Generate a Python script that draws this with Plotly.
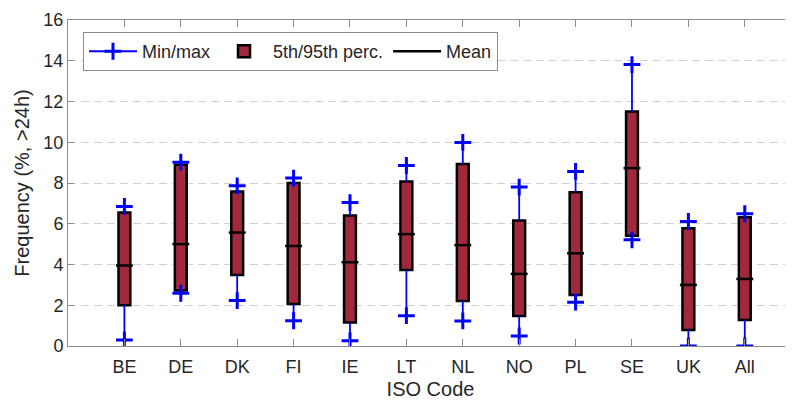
import plotly.graph_objects as go

categories = ["BE", "DE", "DK", "FI", "IE", "LT", "NL", "NO", "PL", "SE", "UK", "All"]
v_max = [6.85, 9.02, 7.86, 8.24, 7.04, 8.86, 9.99, 7.80, 8.57, 13.81, 6.11, 6.49]
v_p95 = [6.55, 8.90, 7.58, 8.00, 6.40, 8.07, 8.93, 6.16, 7.55, 11.51, 5.78, 6.32]
v_mean = [3.95, 5.00, 5.57, 4.91, 4.11, 5.49, 4.95, 3.54, 4.55, 8.73, 3.00, 3.29]
v_p5 = [2.00, 2.72, 3.49, 2.06, 1.15, 3.73, 2.21, 1.47, 2.50, 5.41, 0.79, 1.28]
v_min = [0.30, 2.59, 2.23, 1.24, 0.26, 1.49, 1.23, 0.49, 2.15, 5.21, 0.00, 0.00]
y_ticks = [0, 2, 4, 6, 8, 10, 12, 14, 16]

BLUE = "#0000FF"
BOX = "#A2283E"
TXT = "#262626"
FONT = "Liberation Sans, Arial, Helvetica, sans-serif"

pos = list(range(1, len(categories) + 1))
box_w = 0.21
mean_half = 0.15

# whisker segments (below and above the box)
wx, wy = [], []
for p, mn, lo, hi, mx in zip(pos, v_min, v_p5, v_p95, v_max):
    wx += [p, p, None, p, p, None]
    wy += [mn, lo, None, hi, mx, None]

mx_x, mx_y = [], []
for p, mn, mx in zip(pos, v_min, v_max):
    mx_x += [p, p]
    mx_y += [mn, mx]

# mean segments
mean_x, mean_y = [], []
for p, m in zip(pos, v_mean):
    mean_x += [p - mean_half, p + mean_half, None]
    mean_y += [m, m, None]

fig = go.Figure()

# legend-only entry for min/max
fig.add_trace(go.Scatter(
    x=[None], y=[None], mode="lines+markers", name="Min/max",
    line=dict(color=BLUE, width=2),
    marker=dict(symbol="cross-thin", size=12, line=dict(color=BLUE, width=3)),
    showlegend=True,
))

fig.add_trace(go.Bar(
    x=pos, y=[h - l for h, l in zip(v_p95, v_p5)], base=v_p5,
    width=box_w, name="5th/95th perc.",
    marker=dict(color=BOX, line=dict(color="black", width=2.5)),
    showlegend=True,
))

fig.add_trace(go.Scatter(
    x=wx, y=wy, mode="lines", line=dict(color=BLUE, width=1.8),
    showlegend=False, hoverinfo="skip",
))
fig.add_trace(go.Scatter(
    x=mx_x, y=mx_y, mode="markers",
    marker=dict(symbol="cross-thin", size=12, line=dict(color=BLUE, width=3)),
    showlegend=False,
))

fig.add_trace(go.Scatter(
    x=mean_x, y=mean_y, mode="lines", name="Mean",
    line=dict(color="black", width=2.5),
    showlegend=True,
))

fig.update_layout(
    width=785, height=392,
    margin=dict(l=60, r=0, t=12, b=54),
    paper_bgcolor="white", plot_bgcolor="white",
    font=dict(family=FONT, size=18, color=TXT),
    barmode="overlay",
    legend=dict(
        orientation="h", x=0.0207, y=0.963, xanchor="left", yanchor="top",
        bgcolor="white", bordercolor="#8c8c8c", borderwidth=1,
        font=dict(size=18, color=TXT), itemwidth=48, traceorder="normal",
    ),
    xaxis=dict(
        range=[0, 12.855], tickmode="array", tickvals=pos, ticktext=categories,
        showline=True, linecolor="#8c8c8c", linewidth=1, mirror="ticks",
        ticks="inside", ticklen=7, tickcolor="#8c8c8c", showgrid=False, zeroline=False,
        title=dict(text="ISO Code", font=dict(size=20, color=TXT), standoff=7),
        tickfont=dict(size=18, color=TXT), automargin=False, ticklabelstandoff=4,
    ),
    yaxis=dict(
        range=[0, 16], tickmode="array", tickvals=y_ticks,
        showline=True, linecolor="#8c8c8c", linewidth=1,
        ticks="inside", ticklen=6, tickcolor="#8c8c8c",
        showgrid=True, gridcolor="#d0d0d0", griddash="8px,5px", gridwidth=1,
        zeroline=False, automargin=False,
        title=dict(text="Frequency (%, >24h)", font=dict(size=20, color=TXT), standoff=8),
        tickfont=dict(size=18, color=TXT),
    ),
)

fig.write_html("out.html")
